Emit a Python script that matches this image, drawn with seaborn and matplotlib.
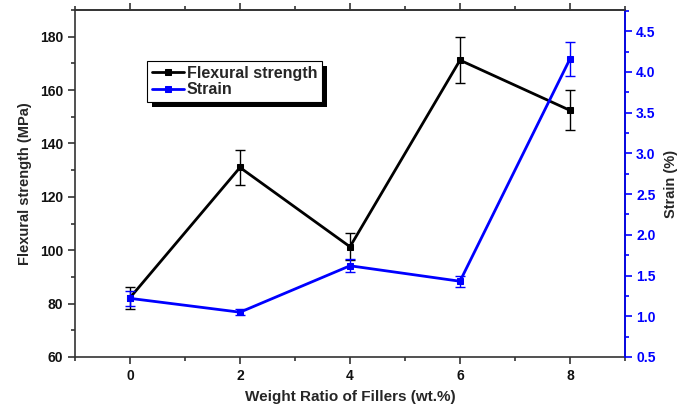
import numpy as np
import pandas as pd
import matplotlib
matplotlib.use('Agg')
import matplotlib.pyplot as plt
import seaborn as sns
from matplotlib.ticker import MultipleLocator
from matplotlib.patches import Rectangle

# --- data ---
filler_ratio = [0, 2, 4, 6, 8]
flexural_strength = [82.2, 131.0, 101.3, 171.2, 152.4]
flexural_err = [4.2, 6.5, 5.0, 8.5, 7.5]
strain = [1.22, 1.05, 1.62, 1.43, 4.16]
strain_err = [0.09, 0.04, 0.08, 0.07, 0.21]

sns.set_theme(style='ticks')
plt.rcParams['font.family'] = ['Liberation Sans', 'DejaVu Sans']
plt.rcParams['font.weight'] = 'bold'
plt.rcParams['axes.labelweight'] = 'bold'

df = pd.DataFrame({'ratio': filler_ratio, 'flex': flexural_strength,
                   'flex_err': flexural_err, 'strain': strain, 'strain_err': strain_err})

fig = plt.figure(figsize=(6.81, 4.08), dpi=100)
ax = fig.add_axes([75 / 681, 1 - 357 / 408, 550 / 681, 347 / 408])
ax2 = ax.twinx()

sns.lineplot(data=df, x='ratio', y='flex', ax=ax, color='black', lw=2,
             marker='s', markersize=5, markeredgecolor='black', label='Flexural strength', legend=False)
ax.errorbar(df['ratio'], df['flex'], yerr=df['flex_err'], fmt='none', ecolor='black',
            elinewidth=1, capsize=3.5, capthick=1)

sns.lineplot(data=df, x='ratio', y='strain', ax=ax2, color='blue', lw=2,
             marker='s', markersize=5, markeredgecolor='blue', label='Strain', legend=False)
ax2.errorbar(df['ratio'], df['strain'], yerr=df['strain_err'], fmt='none', ecolor='blue',
             elinewidth=1, capsize=3.5, capthick=1)

ax.set_xlim(-1, 9)
ax.set_ylim(60, 190)
ax2.set_ylim(0.5, 4.76)

ax.xaxis.set_major_locator(MultipleLocator(2))
ax.xaxis.set_minor_locator(MultipleLocator(1))
ax.yaxis.set_major_locator(MultipleLocator(20))
ax.yaxis.set_minor_locator(MultipleLocator(10))
ax2.yaxis.set_major_locator(MultipleLocator(0.5))
ax2.yaxis.set_minor_locator(MultipleLocator(0.25))
ax2.set_yticks(np.arange(0.5, 4.51, 0.5))
ax2.set_yticklabels([f'{v:.1f}' for v in np.arange(0.5, 4.51, 0.5)])

ax.tick_params(axis='both', which='major', length=5, width=1.2, labelsize=10, color='#333333',
               labelcolor='#111111')
ax.tick_params(axis='both', which='minor', length=3, width=1.2, color='#333333')
ax.tick_params(axis='x', which='both', top=True, labeltop=False)
ax.tick_params(axis='x', which='major', pad=4)
ax2.tick_params(axis='y', which='major', length=5, width=1.2, labelsize=10, colors='blue', pad=3)
ax2.tick_params(axis='y', which='minor', length=3, width=1.2, colors='blue')
for lbl in ax.get_xticklabels() + ax.get_yticklabels() + ax2.get_yticklabels():
    lbl.set_fontweight('bold')

for sp in ['left', 'bottom', 'top']:
    ax.spines[sp].set_color('#333333')
    ax.spines[sp].set_linewidth(1.2)
ax2.spines['right'].set_color('blue')
ax2.spines['right'].set_linewidth(1.2)
ax2.spines['left'].set_visible(False)
ax2.spines['top'].set_color('#333333')
ax2.spines['bottom'].set_visible(False)

ax.set_xlabel('Weight Ratio of Fillers (wt.%)', fontsize=11, fontweight='bold', labelpad=5)
ax.set_ylabel('Flexural strength (MPa)', fontsize=10.5, fontweight='bold', labelpad=6)
ax2.set_ylabel('Strain (%)', fontsize=10.5, fontweight='bold', labelpad=6)

handles = ax.get_lines()[:1] + ax2.get_lines()[:1]
leg = ax.legend(handles, ['Flexural strength', 'Strain'], loc='upper left',
                bbox_to_anchor=(0.131, 0.853), borderaxespad=0, frameon=True, fancybox=False,
                shadow=False, handlelength=2.0, handletextpad=0.2, borderpad=0.3, markerscale=0.8,
                labelspacing=0.1, prop={'weight': 'bold', 'size': 11.5})
leg.get_frame().set_edgecolor('black')
leg.get_frame().set_linewidth(0.8)
leg.get_frame().set_alpha(1)
leg.set_zorder(10)

# solid black drop shadow behind the legend box
fig.canvas.draw()
bb = leg.get_window_extent().transformed(fig.transFigure.inverted())
shadow = Rectangle((bb.x0 + 5 / 681, bb.y0 - 5 / 408), bb.width, bb.height,
                   transform=fig.transFigure, facecolor='black', edgecolor='none', zorder=9)
ax.add_artist(shadow)
shadow.set_clip_on(False)

fig.savefig('out.png', dpi=100)
